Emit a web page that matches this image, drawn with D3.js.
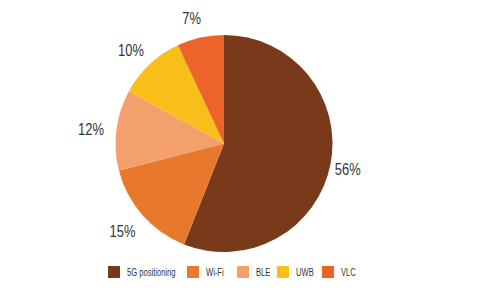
<!DOCTYPE html>
<html>
<head>
<meta charset="utf-8">
<script src="https://cdn.jsdelivr.net/npm/d3@7"></script>
<style>
  body { margin: 0; background: #fff; }
  text { font-family: "Liberation Sans", Arial, sans-serif; fill: #333; }
</style>
</head>
<body>
<div id="chart-area"></div>
<script>
// Data
const categories = ['5G positioning', 'Wi-Fi', 'BLE', 'UWB', 'VLC'];
const shares = [56, 15, 12, 10, 7];
const colors = ['#793a1b', '#e8782b', '#f3a06d', '#f8be19', '#ec6429'];

const width = 500;
const height = 291;
const cx = 224, cy = 143.5, radius = 108.5;

const svg = d3.select('#chart-area').append('svg')
  .attr('width', width)
  .attr('height', height);

const data = categories.map((c, i) => ({ name: c, value: shares[i], color: colors[i] }));

const pie = d3.pie()
  .value((d) => d.value)
  .sort(null);

const arc = d3.arc()
  .innerRadius(0)
  .outerRadius(radius);

// label arc sits outside the pie
const labelArc = d3.arc()
  .innerRadius(130)
  .outerRadius(130);

const g = svg.append('g')
  .attr('transform', 'translate(' + cx + ', ' + cy + ')');

const arcs = pie(data);

g.selectAll('path')
  .data(arcs)
  .enter()
  .append('path')
  .attr('d', arc)
  .attr('fill', (d) => d.data.color);

// condensed look: squeeze the text horizontally
g.selectAll('.label')
  .data(arcs)
  .enter()
  .append('g')
  .attr('class', 'label')
  .attr('transform', (d) => {
    const c = labelArc.centroid(d);
    return 'translate(' + (c[0] - 4) + ', ' + (c[1] + 3) + ') scale(0.76, 1)';
  })
  .append('text')
  .attr('text-anchor', 'middle')
  .attr('dominant-baseline', 'middle')
  .attr('font-size', '17px')
  .text((d) => d.data.value + '%');

// Legend
const legendX = [108, 187, 237, 277, 322];
const legend = svg.append('g')
  .attr('transform', 'translate(0, 266)');

const items = legend.selectAll('g')
  .data(data)
  .enter()
  .append('g')
  .attr('transform', (d, i) => 'translate(' + legendX[i] + ', 0)');

items.append('rect')
  .attr('width', 12)
  .attr('height', 12)
  .attr('fill', (d) => d.color);

items.append('g')
  .attr('transform', 'translate(19, 6.5) scale(0.66, 1)')
  .append('text')
  .attr('dominant-baseline', 'middle')
  .attr('font-size', '11.5px')
  .attr('fill', '#555')
  .text((d) => d.name);
</script>
</body>
</html>
